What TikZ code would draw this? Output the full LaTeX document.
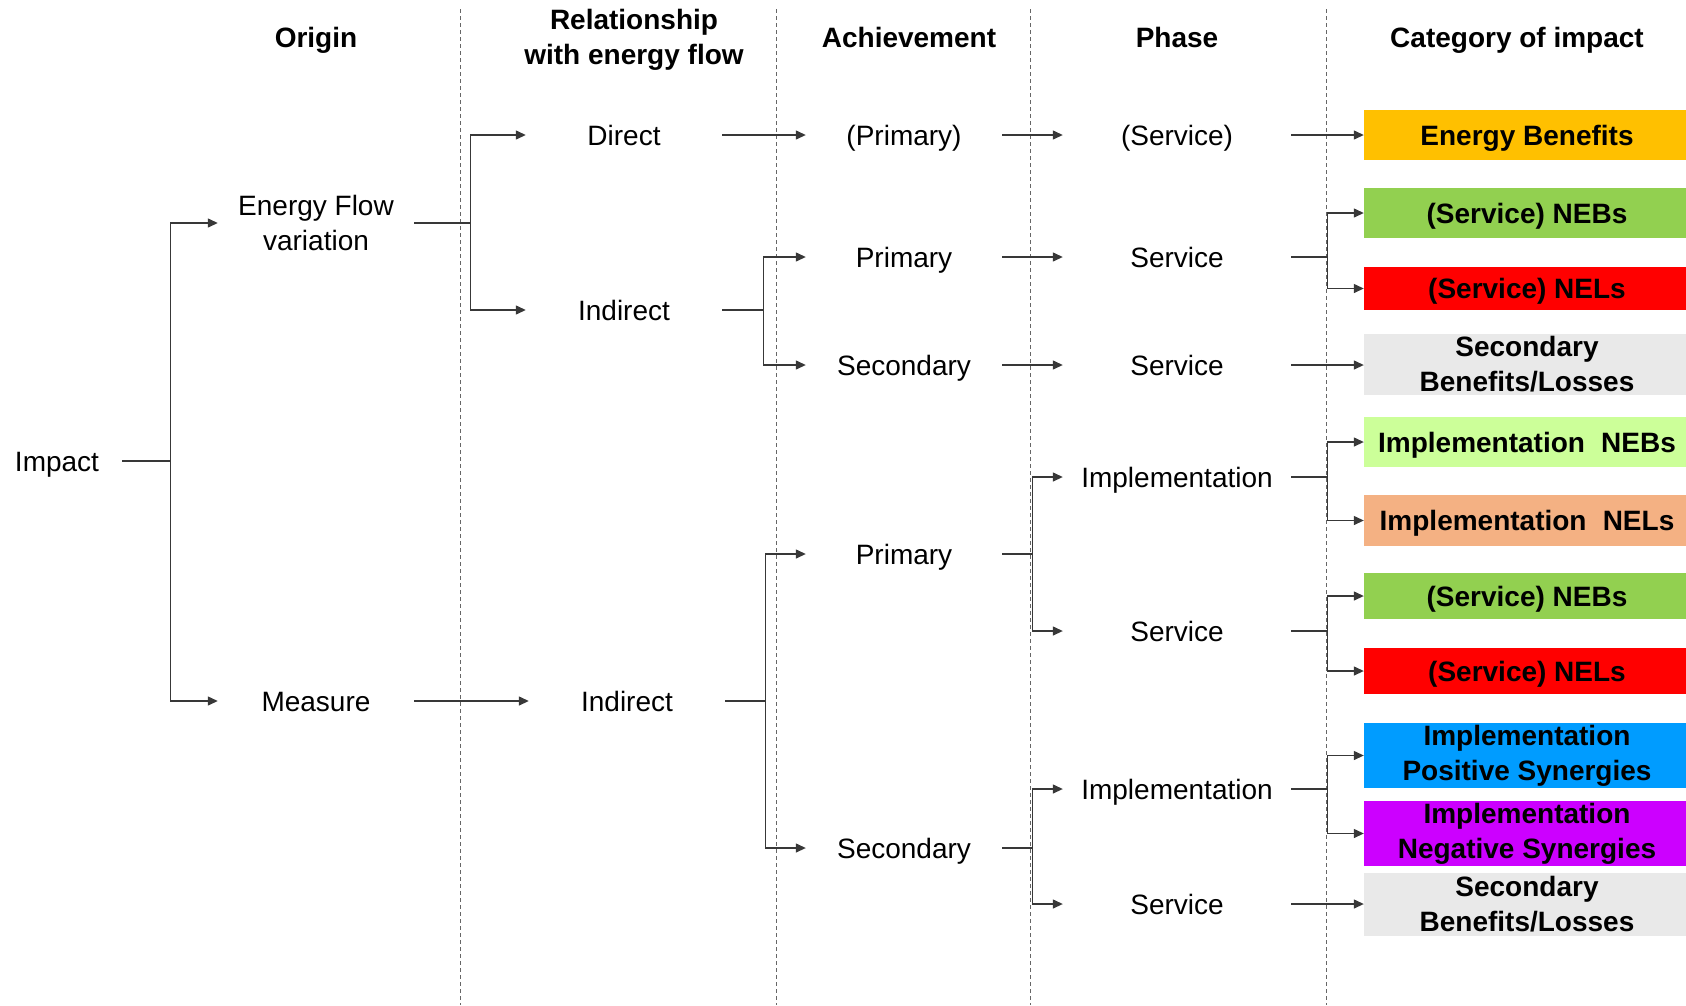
\documentclass[tikz,border=0pt]{standalone}
\usepackage{fontspec}
\setmainfont{Liberation Sans}
\usetikzlibrary{arrows.meta}
\definecolor{cOrange}{HTML}{FFC000}
\definecolor{cGreen}{HTML}{92D050}
\definecolor{cRed}{HTML}{FF0000}
\definecolor{cGrey}{HTML}{E9E9E9}
\definecolor{cLime}{HTML}{CCFF99}
\definecolor{cSalmon}{HTML}{F4B183}
\definecolor{cBlue}{HTML}{009CFF}
\definecolor{cPurple}{HTML}{CC00FF}
\begin{document}
\begin{tikzpicture}[x=1pt,y=-1pt,
  every node/.style={font=\fontsize{28}{35}\selectfont, inner sep=0pt, align=center},
  one/.style={text height=20pt, text depth=0pt},
  head/.style={font=\fontsize{28}{35}\selectfont\bfseries},
  colA/.style={one, minimum width=196pt},
  colP/.style={one, minimum width=228pt},
  catbox/.style={minimum width=326pt, font=\fontsize{28}{35}\selectfont\bfseries, fill=#1},
  link/.style={draw=black!78, line width=1.3pt},
  arr/.style={link, -{Triangle[length=10pt,width=9pt]}},
  sep/.style={draw=black!60, line width=1pt, dash pattern=on 4pt off 3pt}]

\useasboundingbox (0,0) rectangle (1686,1005);
\fill[white] (0,0) rectangle (1686,1005);

% column separators
\foreach \xs in {460,776,1030,1326}
  \draw[sep] (\xs,9) -- (\xs,1005);

% column headings
\node[head,one] (hOrigin) at (316,37) {Origin};
\node[head]     (hRel)    at (634,40) {Relationship\\with energy flow};
\node[head,one] (hAch)    at (909,37) {Achievement};
\node[head,one] (hPhase)  at (1177,37) {Phase};
\node[head,one] (hCat)    at (1517,37) {Category of impact};

% origin
\node[one, minimum width=130pt] (impact) at (57,461) {Impact};
\node[minimum width=196pt] (efv) at (316,223) {Energy Flow\\variation};
\node[colA] (measure) at (316,701) {Measure};

% relationship with energy flow
\node[colA] (direct) at (624,135) {Direct};
\node[colA] (indA)   at (624,310) {Indirect};
\node[colA] (indB)   at (627,701) {Indirect};

% achievement
\node[colA] (pprim) at (904,135) {(Primary)};
\node[colA] (primA) at (904,257) {Primary};
\node[colA] (secA)  at (904,365) {Secondary};
\node[colA] (primB) at (904,554) {Primary};
\node[colA] (secB)  at (904,848) {Secondary};

% phase
\node[colP] (pserv) at (1177,135) {(Service)};
\node[colP] (servA) at (1177,257) {Service};
\node[colP] (servB) at (1177,365) {Service};
\node[colP] (implA) at (1177,477) {Implementation};
\node[colP] (servC) at (1177,631) {Service};
\node[colP] (implB) at (1177,789) {Implementation};
\node[colP] (servD) at (1177,904) {Service};

% categories of impact
\node[catbox=cOrange, one, minimum height=50pt] (eb)     at (1527,135)   {Energy Benefits};
\node[catbox=cGreen,  one, minimum height=50pt] (snebA)  at (1527,213)   {(Service) NEBs};
\node[catbox=cRed,    one, minimum height=43pt] (snelA)  at (1527,288.5) {(Service) NELs};
\node[catbox=cGrey,        minimum height=61pt] (sblA)   at (1527,364.5) {Secondary\\Benefits/Losses};
\node[catbox=cLime,   one, minimum height=50pt] (ineb)   at (1527,442)   {Implementation\hspace{0.3em} NEBs};
\node[catbox=cSalmon, one, minimum height=51pt] (inel)   at (1527,520.5) {Implementation\hspace{0.3em} NELs};
\node[catbox=cGreen,  one, minimum height=46pt] (snebB)  at (1527,596)   {(Service) NEBs};
\node[catbox=cRed,    one, minimum height=46pt] (snelB)  at (1527,671)   {(Service) NELs};
\node[catbox=cBlue,        minimum height=65pt] (possyn) at (1527,755.5) {Implementation\\Positive Synergies};
\node[catbox=cPurple,      minimum height=65pt] (negsyn) at (1527,833.5) {Implementation\\Negative Synergies};
\node[catbox=cGrey,        minimum height=63pt] (sblB)   at (1527,904.5) {Secondary\\Benefits/Losses};

% origin forks
\draw[arr] (impact.east) -- ++(48,0) |- (efv.west);
\draw[arr] (impact.east) -- ++(48,0) |- (measure.west);

% relationship forks
\draw[arr] (efv.east) -- ++(56,0) |- (direct.west);
\draw[arr] (efv.east) -- ++(56,0) |- (indA.west);
\draw[arr] (measure.east) -- (indB.west);

% achievement forks
\draw[arr] (direct.east) -- (pprim.west);
\draw[arr] (indA.east) -- ++(41,0) |- (primA.west);
\draw[arr] (indA.east) -- ++(41,0) |- (secA.west);
\draw[arr] (indB.east) -- ++(40,0) |- (primB.west);
\draw[arr] (indB.east) -- ++(40,0) |- (secB.west);

% phase forks
\draw[arr] (pprim.east) -- (pserv.west);
\draw[arr] (primA.east) -- (servA.west);
\draw[arr] (secA.east) -- (servB.west);
\draw[arr] (primB.east) -- ++(30,0) |- (implA.west);
\draw[arr] (primB.east) -- ++(30,0) |- (servC.west);
\draw[arr] (secB.east) -- ++(30,0) |- (implB.west);
\draw[arr] (secB.east) -- ++(30,0) |- (servD.west);

% category forks
\draw[arr] (pserv.east) -- (pserv.east -| eb.west);
\draw[arr] (servA.east) -- ++(36,0) |- (snebA.west);
\draw[arr] (servA.east) -- ++(36,0) |- (snelA.west);
\draw[arr] (servB.east) -- (servB.east -| sblA.west);
\draw[arr] (implA.east) -- ++(36,0) |- (ineb.west);
\draw[arr] (implA.east) -- ++(36,0) |- (inel.west);
\draw[arr] (servC.east) -- ++(36,0) |- (snebB.west);
\draw[arr] (servC.east) -- ++(36,0) |- (snelB.west);
\draw[arr] (implB.east) -- ++(36,0) |- (possyn.west);
\draw[arr] (implB.east) -- ++(36,0) |- (negsyn.west);
\draw[arr] (servD.east) -- (servD.east -| sblB.west);
\end{tikzpicture}
\end{document}
